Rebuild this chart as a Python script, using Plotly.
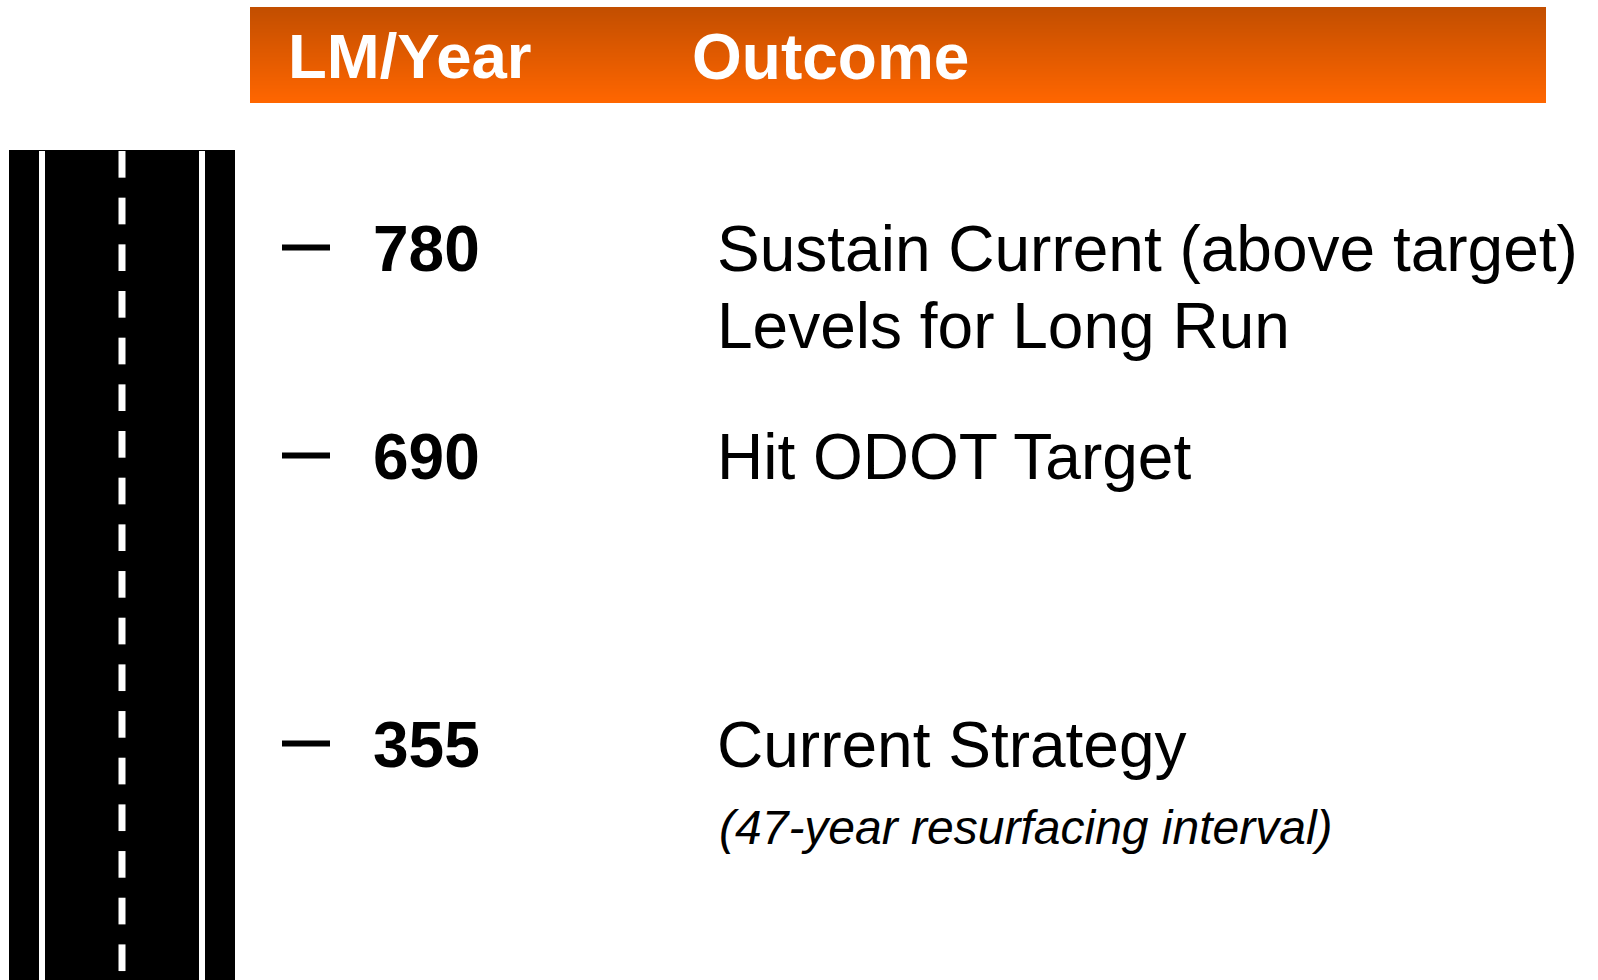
import plotly.graph_objects as go

# Data
headers = ["LM/Year", "Outcome"]
lm_values = ["780", "690", "355"]
outcomes = ["Sustain Current (above target)", "Levels for Long Run", "Hit ODOT Target", "Current Strategy"]
note = "(47-year resurfacing interval)"

W, H = 1598, 980
GRAD_TOP = (194, 78, 0)
GRAD_BOTTOM = (255, 102, 0)
FONT = "Liberation Sans"

shapes = []


def rect(x0, y0, x1, y1, color):
    shapes.append(dict(type="rect", xref="x", yref="y", x0=x0, y0=y0, x1=x1, y1=y1,
                       fillcolor=color, line=dict(width=0), layer="above"))


# Header band with vertical gradient
band_top, band_bottom = 7, 103
for i in range(band_bottom - band_top):
    t = i / (band_bottom - band_top - 1)
    c = [round(a + (b - a) * t) for a, b in zip(GRAD_TOP, GRAD_BOTTOM)]
    rect(250, band_top + i, 1546, band_top + i + 1, f"rgb({c[0]},{c[1]},{c[2]})")

# Road
rect(9, 150, 235, H, "#000000")
rect(39, 151, 45, H, "#ffffff")
rect(199, 151, 205, H, "#ffffff")
y = 151.0
while y < H:
    rect(118.5, y, 125.5, min(y + 26.67, H), "#ffffff")
    y += 46.67

# Tick dashes
for yc in (247.5, 455.5, 743.5):
    rect(282, yc - 3, 330, yc + 3, "#000000")

annotations = []


def label(x, baseline, text, size, color="#000000", bold=False, italic=False):
    t = f"<b>{text}</b>" if bold else text
    t = f"<i>{t}</i>" if italic else t
    annotations.append(dict(x=x, y=baseline, xref="x", yref="y", text=t, showarrow=False,
                            xanchor="left", yanchor="bottom", borderpad=0, borderwidth=0,
                            yshift=-size * 0.3,
                            font=dict(family=FONT, size=size, color=color)))


label(288, 72, headers[0], 63.5, "#ffffff", bold=True)
label(692, 73.5, headers[1], 64, "#ffffff", bold=True)
for val, base in zip(lm_values, (266, 474, 762)):
    label(372.5, base, val, 64, bold=True)
for txt, base in zip(outcomes, (266, 343, 474, 762)):
    label(717, base, txt, 64)
label(719, 840, note, 48, italic=True)

fig = go.Figure()
fig.update_layout(
    width=W, height=H, margin=dict(l=0, r=0, t=0, b=0, pad=0), showlegend=False,
    paper_bgcolor="#ffffff", plot_bgcolor="#ffffff",
    xaxis=dict(range=[0, W], visible=False, fixedrange=True),
    yaxis=dict(range=[H, 0], visible=False, fixedrange=True),
    shapes=shapes, annotations=annotations,
)
fig.write_html("out.html", config={"displayModeBar": False},
               post_script="document.body.style.margin='0';document.documentElement.style.overflow='hidden';")
